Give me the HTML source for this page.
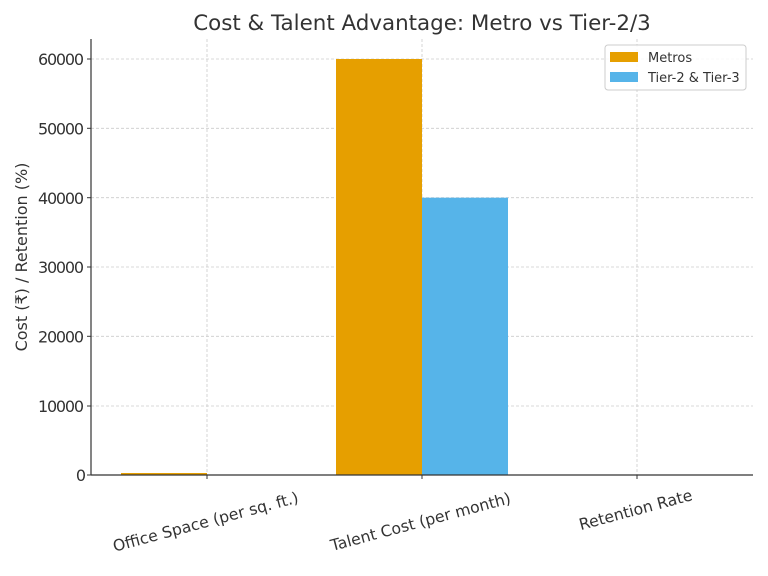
<!DOCTYPE html>
<html><head><meta charset="utf-8"><style>body{margin:0;background:#fff}svg{display:block;font-family:"DejaVu Sans","Liberation Sans",sans-serif}</style></head><body>
<svg width="768" height="576" viewBox="0 0 768 576">
<rect width="768" height="576" fill="#fff"/>
<g stroke="#cccccc" stroke-width="0.8" stroke-dasharray="3,2">
<line x1="207" y1="39" x2="207" y2="475"/><line x1="422" y1="39" x2="422" y2="475"/><line x1="637" y1="39" x2="637" y2="475"/>
<line x1="91" y1="406" x2="753" y2="406"/><line x1="91" y1="336.3" x2="753" y2="336.3"/><line x1="91" y1="267" x2="753" y2="267"/><line x1="91" y1="197.7" x2="753" y2="197.7"/><line x1="91" y1="128.3" x2="753" y2="128.3"/><line x1="91" y1="59" x2="753" y2="59"/>
</g>
<rect x="121" y="473" width="86" height="2" fill="#E69F00"/>
<rect x="336" y="59" width="86" height="416" fill="#E69F00"/>
<rect x="422" y="197.7" width="86" height="277.3" fill="#56B4E9"/>
<g stroke="#333" stroke-width="1.2" fill="none"><line x1="91" y1="39" x2="91" y2="475"/><line x1="91" y1="475" x2="753" y2="475"/></g>
<g stroke="#333" stroke-width="1"><line x1="87" y1="475" x2="91" y2="475"/><line x1="87" y1="406" x2="91" y2="406"/><line x1="87" y1="336.3" x2="91" y2="336.3"/><line x1="87" y1="267" x2="91" y2="267"/><line x1="87" y1="197.7" x2="91" y2="197.7"/><line x1="87" y1="128.3" x2="91" y2="128.3"/><line x1="87" y1="59" x2="91" y2="59"/>
<line x1="207" y1="475" x2="207" y2="479"/><line x1="422" y1="475" x2="422" y2="479"/><line x1="637" y1="475" x2="637" y2="479"/></g>
<g font-size="16" fill="#333" text-anchor="end">
<text x="86" y="481">0</text>
<text x="84" y="412" textLength="46">10000</text><text x="84" y="342.5" textLength="46">20000</text><text x="84" y="273" textLength="46">30000</text><text x="84" y="204" textLength="46">40000</text><text x="84" y="134.5" textLength="46">50000</text><text x="84" y="65" textLength="46">60000</text>
</g>
<g font-size="15.7" fill="#333" text-anchor="middle">
<text transform="translate(207,527) rotate(-15)">Office Space (per sq. ft.)</text>
<text transform="translate(422,527) rotate(-15)">Talent Cost (per month)</text>
<text transform="translate(637,515) rotate(-15)">Retention Rate</text>
<text transform="translate(27,257) rotate(-90)" font-size="16">Cost (₹) / Retention (%)</text>
<text x="422" y="30" font-size="21.4">Cost &amp; Talent Advantage: Metro vs Tier-2/3</text>
</g>
<rect x="605" y="45" width="141" height="45" rx="3" fill="#fff" fill-opacity="0.85" stroke="#ccc"/>
<rect x="610" y="52" width="28" height="10" fill="#E69F00"/>
<rect x="610" y="72" width="28" height="10" fill="#56B4E9"/>
<g font-size="13" fill="#333"><text x="648" y="62">Metros</text><text x="648" y="82">Tier-2 &amp; Tier-3</text></g>
</svg>
</body></html>
